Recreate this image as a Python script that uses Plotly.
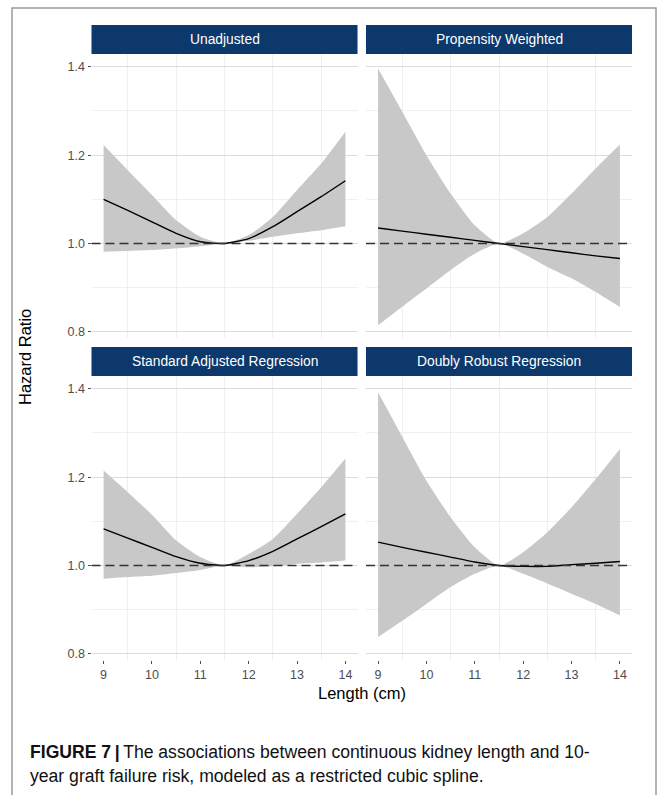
import plotly.graph_objects as go

# ---------------- data ----------------
length_cm = [9, 9.5, 10, 10.5, 11, 11.5, 12, 12.5, 13, 13.5, 14]

panels = ["Unadjusted", "Propensity Weighted", "Standard Adjusted Regression", "Doubly Robust Regression"]

unadj_hr = [1.100, 1.075, 1.049, 1.023, 1.004, 1.000, 1.011, 1.038, 1.072, 1.106, 1.142]
unadj_hi = [1.223, 1.166, 1.110, 1.053, 1.015, 1.000, 1.019, 1.060, 1.121, 1.181, 1.253]
unadj_lo = [0.981, 0.983, 0.985, 0.989, 0.994, 1.000, 1.006, 1.015, 1.023, 1.030, 1.039]

prop_hr = [1.035, 1.028, 1.021, 1.014, 1.007, 1.000, 0.993, 0.986, 0.979, 0.972, 0.966]
prop_hi = [1.396, 1.298, 1.200, 1.113, 1.041, 1.000, 1.023, 1.060, 1.113, 1.170, 1.224]
prop_lo = [0.815, 0.857, 0.898, 0.940, 0.977, 1.000, 0.977, 0.947, 0.921, 0.890, 0.856]

std_hr = [1.083, 1.062, 1.041, 1.020, 1.005, 1.000, 1.011, 1.032, 1.060, 1.088, 1.117]
std_hi = [1.215, 1.166, 1.115, 1.057, 1.019, 1.000, 1.026, 1.060, 1.117, 1.177, 1.242]
std_lo = [0.970, 0.974, 0.977, 0.983, 0.990, 1.000, 0.996, 0.998, 1.004, 1.007, 1.011]

dr_hr = [1.053, 1.041, 1.030, 1.019, 1.008, 1.000, 0.998, 0.998, 1.002, 1.005, 1.009]
dr_hi = [1.392, 1.291, 1.192, 1.109, 1.041, 1.000, 1.030, 1.075, 1.132, 1.196, 1.264]
dr_lo = [0.838, 0.875, 0.913, 0.951, 0.981, 1.000, 0.981, 0.959, 0.936, 0.913, 0.887]

x_ticks = [9, 10, 11, 12, 13, 14]
y_ticks = [0.8, 1.0, 1.2, 1.4]
ref_hr = 1.0

caption_1 = "<b>FIGURE 7</b>\u2009<b>|</b>\u2009The associations between continuous kidney length and 10-"
caption_2 = "year graft failure risk, modeled as a restricted cubic spline."

# ---------------- layout helpers ----------------
W, H = 663, 795

def px_x(p):
    return p / W

def px_y(p):
    return 1 - p / H

STRIP = "#0c386b"
RIBBON = "#c8c8c8"
FONT = "Liberation Sans, Arial"

series = [
    (unadj_hr, unadj_hi, unadj_lo),
    (prop_hr, prop_hi, prop_lo),
    (std_hr, std_hi, std_lo),
    (dr_hr, dr_hi, dr_lo),
]

col_px = [(91.5, 357.5), (366.0, 632.0)]
row_px = [(54.0, 338.0), (376.0, 660.0)]
strip_px = [(25.0, 54.0), (347.0, 376.0)]

fig = go.Figure()
shapes = []
annotations = []

for i, (hr, hi, lo) in enumerate(series):
    r, c = divmod(i, 2)
    n = i + 1
    xa = "x" if n == 1 else f"x{n}"
    ya = "y" if n == 1 else f"y{n}"
    fig.add_trace(go.Scatter(x=length_cm, y=lo, mode="lines", line=dict(width=0, color=RIBBON, shape="spline", smoothing=0.6),
                             showlegend=False, hoverinfo="skip", xaxis=xa, yaxis=ya))
    fig.add_trace(go.Scatter(x=length_cm, y=hi, mode="lines", line=dict(width=0, color=RIBBON, shape="spline", smoothing=0.6),
                             fill="tonexty", fillcolor=RIBBON, showlegend=False, hoverinfo="skip",
                             xaxis=xa, yaxis=ya))
    fig.add_trace(go.Scatter(x=length_cm, y=hr, mode="lines",
                             line=dict(width=1.4, color="black", shape="spline", smoothing=0.6),
                             showlegend=False, xaxis=xa, yaxis=ya))
    xd = [px_x(col_px[c][0]), px_x(col_px[c][1])]
    yd = [px_y(row_px[r][1]), px_y(row_px[r][0])]
    xkey = "xaxis" if n == 1 else f"xaxis{n}"
    ykey = "yaxis" if n == 1 else f"yaxis{n}"
    fig.update_layout(**{
        xkey: dict(domain=xd, anchor=ya, range=[8.75, 14.25], tickvals=x_ticks,
                   showticklabels=(r == 1), ticks="outside" if r == 1 else "",
                   ticklen=3, tickwidth=1, tickcolor="#4d4d4d",
                   showgrid=False, zeroline=False, showline=False,
                   tickfont=dict(family=FONT, size=12.5, color="#4d4d4d"),
                   minor=dict(showgrid=True, tick0=9.5, dtick=1, gridcolor="#efefef", gridwidth=1)),
        ykey: dict(domain=yd, anchor=xa, range=[0.786, 1.429], tickvals=y_ticks,
                   tickformat=".1f", showticklabels=(c == 0), ticks="outside" if c == 0 else "",
                   ticklen=3, tickwidth=1, tickcolor="#4d4d4d",
                   showgrid=True, gridcolor="#dcdcdc", gridwidth=1,
                   zeroline=False, showline=False,
                   tickfont=dict(family=FONT, size=12.5, color="#4d4d4d"),
                   minor=dict(showgrid=True, dtick=0.1, tick0=0.8, gridcolor="#f0f0f0", gridwidth=1)),
    })
    # reference line
    shapes.append(dict(type="line", xref=f"{xa} domain", yref=ya, x0=0, x1=1, y0=ref_hr, y1=ref_hr,
                       line=dict(color="#333333", width=1.3, dash="9px,5px"), layer="above"))
    # strip
    shapes.append(dict(type="rect", xref="paper", yref="paper",
                       x0=px_x(col_px[c][0]), x1=px_x(col_px[c][1]),
                       y0=px_y(strip_px[r][1]), y1=px_y(strip_px[r][0]),
                       fillcolor=STRIP, line=dict(width=0)))
    annotations.append(dict(text=panels[i], xref="paper", yref="paper",
                            x=px_x((col_px[c][0] + col_px[c][1]) / 2),
                            y=px_y((strip_px[r][0] + strip_px[r][1]) / 2),
                            xanchor="center", yanchor="middle", showarrow=False,
                            font=dict(family=FONT, size=13.8, color="white")))

# frame
shapes.append(dict(type="rect", xref="paper", yref="paper", x0=px_x(12), x1=px_x(656),
                   y0=px_y(797), y1=px_y(8), line=dict(color="#9a9a9a", width=1.5)))

annotations.append(dict(text="Length (cm)", xref="paper", yref="paper", x=px_x(362), y=px_y(693),
                        xanchor="center", yanchor="middle", showarrow=False,
                        font=dict(family=FONT, size=16.5, color="black")))
annotations.append(dict(text="Hazard Ratio", xref="paper", yref="paper", x=px_x(25), y=px_y(357),
                        xanchor="center", yanchor="middle", showarrow=False, textangle=-90,
                        font=dict(family=FONT, size=16.5, color="black")))
annotations.append(dict(text=caption_1, xref="paper", yref="paper", x=px_x(28), y=px_y(752),
                        xanchor="left", yanchor="middle", showarrow=False,
                        font=dict(family=FONT, size=17.6, color="#111111")))
annotations.append(dict(text=caption_2, xref="paper", yref="paper", x=px_x(28), y=px_y(776),
                        xanchor="left", yanchor="middle", showarrow=False,
                        font=dict(family=FONT, size=17.6, color="#111111")))

fig.update_layout(width=W, height=H, margin=dict(l=0, r=0, t=0, b=0),
                  paper_bgcolor="white", plot_bgcolor="white",
                  shapes=shapes, annotations=annotations, showlegend=False)

fig.write_html("out.html")
